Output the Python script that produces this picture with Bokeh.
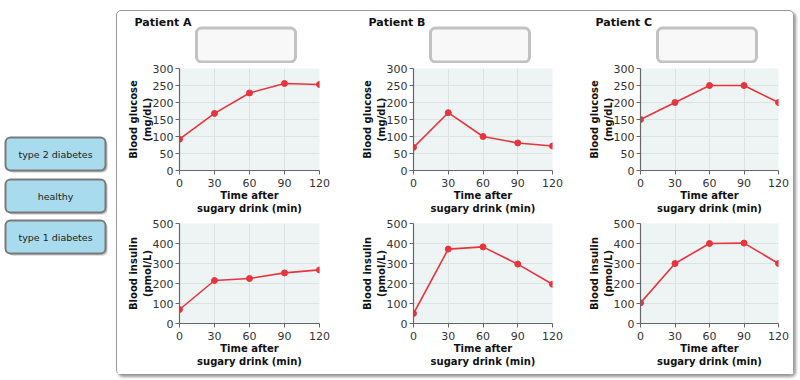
from bokeh.plotting import figure
from bokeh.layouts import row, column
from bokeh.models import BoxAnnotation, ColumnDataSource, Range1d, FixedTicker, Spacer
from bokeh.core.properties import value
from bokeh.embed import file_html
from bokeh.resources import INLINE

# ---- data ----
times = [0, 30, 60, 90, 120]
patients = ["Patient A", "Patient B", "Patient C"]
glucose_a = [92, 168, 228, 256, 253]
glucose_b = [68, 170, 100, 81, 72]
glucose_c = [150, 200, 250, 250, 200]
insulin_a = [70, 215, 225, 253, 268]
insulin_b = [50, 372, 383, 297, 196]
insulin_c = [103, 300, 400, 402, 300]
glucose_ticks = [0, 50, 100, 150, 200, 250, 300]
insulin_ticks = [0, 100, 200, 300, 400, 500]
time_ticks = [0, 30, 60, 90, 120]
button_labels = ["type 2 diabetes", "healthy", "type 1 diabetes"]

FONT = "DejaVu Sans"
RED = "#e8343c"

def blank(w, h):
    p = figure(width=w, height=h, output_backend="svg", toolbar_location=None,
               x_range=Range1d(0, w), y_range=Range1d(h, 0),
               min_border=0, outline_line_color=None)
    p.axis.visible = False
    p.grid.visible = False
    p.background_fill_color = None
    p.border_fill_color = None
    p.frame_align = False
    return p

# ---- left buttons ----
left = blank(116, 378)
btn_tops = [137, 179, 220]
btn_h = 33
for lbl, t in zip(button_labels, btn_tops):
    left.add_layout(BoxAnnotation(left=7, right=107, top=t + 2, bottom=t + btn_h + 2,
                                  fill_color="#9a9a9a", fill_alpha=0.6, line_color=None,
                                  border_radius=5, level="underlay"))
    left.add_layout(BoxAnnotation(left=5, right=105, top=t, bottom=t + btn_h,
                                  fill_color="#a8dbee", fill_alpha=1, line_color="#7a7a7a",
                                  line_width=2, line_alpha=1, border_radius=5,
                                  level="underlay"))
    left.text(x=[55], y=[t + btn_h / 2], text=[lbl], text_font=value(FONT),
              text_font_size="9.5px", text_align="center", text_baseline="middle",
              text_color="#222222")

def style_plot(p):
    p.background_fill_color = "#eef4f3"
    p.border_fill_color = "white"
    p.outline_line_color = None
    p.grid.grid_line_color = "#dbe2e1"
    p.grid.grid_line_width = 1
    for ax in p.axis:
        ax.axis_line_color = "#666666"
        ax.axis_line_width = 1.2
        ax.major_tick_line_color = "#666666"
        ax.major_tick_out = 4
        ax.major_tick_in = 0
        ax.minor_tick_line_color = None
        ax.major_label_text_font = FONT
        ax.major_label_text_font_size = "11px"
        ax.major_label_text_color = "#333333"
        ax.axis_label_text_font = FONT
        ax.axis_label_text_font_size = "10px"
        ax.axis_label_text_font_style = "bold"
        ax.axis_label_text_color = "#111111"
    p.xaxis.major_label_standoff = 4
    p.xaxis.axis_label_standoff = 0
    p.yaxis.major_label_standoff = 2
    p.yaxis.axis_label_standoff = -3

def make_plot(w_frame, right_border, top_border, bottom_border, h, yvals, ymax, yticks, ylabel):
    p = figure(width=62 + w_frame + right_border, height=h, output_backend="svg",
               toolbar_location=None, x_range=Range1d(0, 120), y_range=Range1d(0, ymax),
               min_border_left=62, min_border_right=right_border,
               min_border_top=top_border, min_border_bottom=bottom_border)
    style_plot(p)
    p.xaxis.ticker = FixedTicker(ticks=time_ticks)
    p.yaxis.ticker = FixedTicker(ticks=yticks)
    p.xaxis.axis_label = "Time after\nsugary drink (min)"
    p.yaxis.axis_label = ylabel
    src = ColumnDataSource(dict(t=times, v=yvals))
    p.line("t", "v", source=src, line_color=RED, line_width=1.6)
    p.scatter("t", "v", source=src, size=6, fill_color=RED, line_color=RED)
    return p

frames = [140, 139, 138]
rights = [32, 26, 15]
glucose = [glucose_a, glucose_b, glucose_c]
insulin = [insulin_a, insulin_b, insulin_c]

cols = []
for name, wf, rb, g, ins in zip(patients, frames, rights, glucose, insulin):
    w = 62 + wf + rb
    head = blank(w, 52)
    head.text(x=[17], y=[10.5], text=[name], text_font=value(FONT), text_font_size="11px",
              text_font_style="bold", text_baseline="middle", text_color="#111111")
    head.add_layout(BoxAnnotation(left=79, right=178, top=16.5, bottom=50.5,
                                  fill_color="#f8f8f8", fill_alpha=1, line_color="#c2c2c2",
                                  line_width=3, line_alpha=1, border_radius=5,
                                  level="underlay"))
    pg = make_plot(wf, rb, 5, 10, 153, g, 300, glucose_ticks, "Blood glucose\n(mg/dL)")
    pi = make_plot(wf, rb, 7, 51, 158, ins, 500, insulin_ticks, "Blood insulin\n(pmol/L)")
    cols.append(column(head, pg, pi, spacing=0))

panel = row(*cols, spacing=0,
            styles={"border": "1.5px solid #9a9a9a", "border-radius": "5px",
                    "box-shadow": "2px 2px 3px #9a9a9a"})
right_side = column(Spacer(width=10, height=10), panel, spacing=0)
layout = row(left, right_side, spacing=0)

open("out.html", "w").write(file_html(layout, INLINE))
